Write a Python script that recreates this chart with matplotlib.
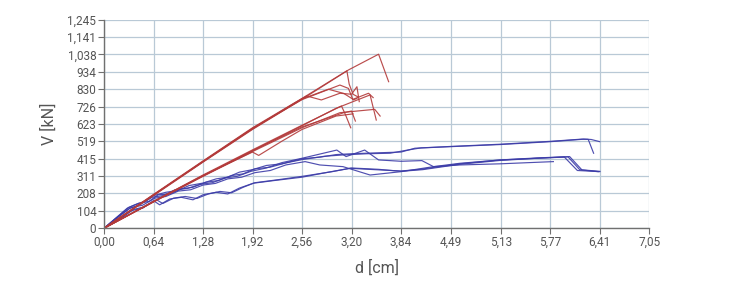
import matplotlib
matplotlib.use("Agg")
import matplotlib.pyplot as plt
from matplotlib.ticker import FixedLocator

plt.rcParams['font.family'] = ['Roboto', 'DejaVu Sans']

# ---- axis ticks ----
x_ticks = [0.00, 0.64, 1.28, 1.92, 2.56, 3.20, 3.84, 4.49, 5.13, 5.77, 6.41, 7.05]
x_tick_labels = ["0,00", "0,64", "1,28", "1,92", "2,56", "3,20", "3,84", "4,49",
                 "5,13", "5,77", "6,41", "7,05"]
y_ticks = [0, 104, 208, 311, 415, 519, 623, 726, 830, 934, 1038, 1141, 1245]
y_tick_labels = ["0", "104", "208", "311", "415", "519", "623", "726", "830", "934",
                 "1,038", "1,141", "1,245"]

# ---- red curves, upper bundle ----
ur1_x = [0, 0.64, 1.28, 1.92, 2.56, 3.16, 3.55, 3.68]
ur1_y = [0, 195, 395, 590, 770, 945, 1039, 875]
ur2_x = [0, 0.64, 1.28, 1.92, 2.56, 3.14, 3.17, 3.22, 3.28]
ur2_y = [0, 198, 398, 595, 775, 940, 860, 800, 785]
ur3_x = [0, 0.64, 1.28, 1.92, 2.56, 3.05, 3.16, 3.22, 3.27]
ur3_y = [0, 200, 400, 597, 768, 855, 835, 766, 775]
ur4_x = [0, 0.64, 1.28, 1.92, 2.45, 2.62, 2.81, 3.05, 3.20, 3.27, 3.30]
ur4_y = [0, 202, 402, 600, 745, 790, 766, 806, 800, 845, 756]
ur5_x = [0, 0.64, 1.28, 1.92, 2.56, 2.90, 3.10, 3.22, 3.42, 3.48]
ur5_y = [0, 199, 397, 593, 772, 830, 805, 770, 806, 780]

# ---- red curves, lower bundle ----
lr1_x = [0, 0.64, 1.28, 1.92, 2.56, 3.00, 3.44, 3.52]
lr1_y = [0, 158, 312, 462, 612, 716, 796, 646]
lr2_x = [0, 0.64, 1.28, 1.92, 2.56, 3.07, 3.12, 3.19]
lr2_y = [0, 160, 318, 468, 615, 730, 680, 600]
lr3_x = [0, 0.64, 1.28, 1.92, 2.56, 3.05, 3.50, 3.57]
lr3_y = [0, 157, 310, 458, 600, 690, 710, 670]
lr4_x = [0, 0.64, 1.28, 1.92, 2.00, 2.30, 2.56, 3.00, 3.22]
lr4_y = [0, 161, 315, 455, 435, 520, 590, 670, 683]
lr5_x = [0, 0.64, 1.28, 1.92, 2.56, 3.10, 3.20, 3.25]
lr5_y = [0, 159, 314, 464, 605, 690, 700, 640]

# ---- blue curves ----
b1_x = [0, 0.15, 0.30, 0.40, 0.55, 0.64, 0.80, 0.95, 1.10, 1.28, 1.45, 1.60, 1.75, 1.92,
        2.10, 2.30, 2.56, 2.80, 3.00, 3.20, 3.50, 3.84, 4.02, 4.47, 5.13, 5.77, 6.18, 6.26, 6.33]
b1_y = [0, 60, 120, 140, 165, 195, 215, 225, 255, 270, 295, 305, 335, 350,
        375, 385, 415, 425, 440, 445, 450, 455, 478, 487, 500, 517, 531, 531, 448]
b2_x = [0, 0.18, 0.32, 0.45, 0.58, 0.70, 0.85, 1.00, 1.15, 1.32, 1.48, 1.65, 1.80, 1.95,
        2.15, 2.35, 2.56, 2.85, 3.10, 3.40, 3.70, 3.90, 4.10, 4.50, 5.13, 5.77, 6.20, 6.30, 6.41]
b2_y = [0, 70, 125, 150, 160, 200, 205, 235, 245, 275, 285, 315, 325, 355,
        365, 390, 410, 430, 438, 445, 448, 465, 480, 489, 502, 519, 533, 530, 517]
b3_x = [0, 0.17, 0.33, 0.48, 0.62, 0.76, 0.92, 1.08, 1.24, 1.40, 1.56, 1.72, 1.90,
        2.10, 2.30, 2.56, 3.01, 3.13, 3.37, 3.55, 3.84, 4.11, 4.26, 4.60, 5.13, 5.81]
b3_y = [0, 65, 118, 145, 185, 195, 230, 238, 262, 272, 300, 310, 340,
        360, 392, 418, 467, 428, 467, 408, 400, 404, 368, 378, 385, 398]
b4_x = [0, 0.16, 0.34, 0.50, 0.66, 0.80, 0.96, 1.12, 1.28, 1.44, 1.60, 1.78, 1.95,
        2.15, 2.35, 2.60, 2.79, 3.09, 3.44, 3.84, 4.26, 4.60, 5.13, 5.60, 5.95, 6.12, 6.41]
b4_y = [0, 58, 122, 138, 180, 190, 222, 230, 258, 268, 295, 305, 332,
        345, 378, 398, 378, 368, 318, 338, 368, 388, 408, 418, 426, 345, 338]
b5_x = [0, 0.20, 0.35, 0.50, 0.64, 0.72, 0.85, 1.00, 1.15, 1.28, 1.45, 1.60, 1.75, 1.93,
        2.20, 2.56, 2.90, 3.18, 3.50, 3.84, 4.09, 4.60, 5.12, 5.60, 6.02, 6.18, 6.39]
b5_y = [0, 55, 105, 120, 165, 140, 175, 185, 170, 200, 215, 205, 240, 269,
        285, 305, 335, 358, 350, 342, 352, 385, 408, 420, 428, 348, 338]
b6_x = [0, 0.22, 0.38, 0.52, 0.68, 0.76, 0.90, 1.05, 1.20, 1.35, 1.50, 1.65, 1.80, 1.95,
        2.25, 2.56, 2.95, 3.20, 3.55, 3.84, 4.12, 4.60, 5.12, 5.60, 6.00, 6.15, 6.41]
b6_y = [0, 60, 112, 128, 170, 148, 180, 190, 178, 205, 220, 212, 245, 272,
        290, 310, 338, 360, 352, 340, 350, 382, 405, 418, 426, 350, 340]

red_curves = [(ur1_x, ur1_y), (ur2_x, ur2_y), (ur3_x, ur3_y), (ur4_x, ur4_y), (ur5_x, ur5_y),
              (lr1_x, lr1_y), (lr2_x, lr2_y), (lr3_x, lr3_y), (lr4_x, lr4_y), (lr5_x, lr5_y)]
blue_curves = [(b1_x, b1_y), (b2_x, b2_y), (b3_x, b3_y), (b4_x, b4_y), (b5_x, b5_y), (b6_x, b6_y)]

fig = plt.figure(figsize=(7.35, 2.88), dpi=100)
ax = fig.add_axes([0.1415, 0.2073, 0.7419, 0.7243])

for xs, ys in blue_curves:
    ax.plot(xs, ys, color='#3c3ca8', lw=0.85, alpha=0.9)
for xs, ys in red_curves:
    ax.plot(xs, ys, color='#b33a3a', lw=0.85, alpha=0.9)

ax.set_xlim(0, 7.05)
ax.set_ylim(0, 1245)
ax.xaxis.set_major_locator(FixedLocator(x_ticks))
ax.yaxis.set_major_locator(FixedLocator(y_ticks))
ax.set_xticklabels(x_tick_labels)
ax.set_yticklabels(y_tick_labels)

ax.grid(True, color='#b9c9d6', lw=0.9)
ax.set_axisbelow(True)
for s in ['top', 'right']:
    ax.spines[s].set_visible(False)
for s in ['left', 'bottom']:
    ax.spines[s].set_color('#707070')
    ax.spines[s].set_linewidth(1.0)
ax.tick_params(axis='both', colors='#707070', labelcolor='#555555', labelsize=8.5,
               length=4, width=0.8, pad=1.5)

ax.set_xlabel('d [cm]', fontsize=11.5, color='#555555', labelpad=8)
ax.set_ylabel('V [kN]', fontsize=11.5, color='#555555', labelpad=8)

fig.savefig('out.png', dpi=100, facecolor='white')
